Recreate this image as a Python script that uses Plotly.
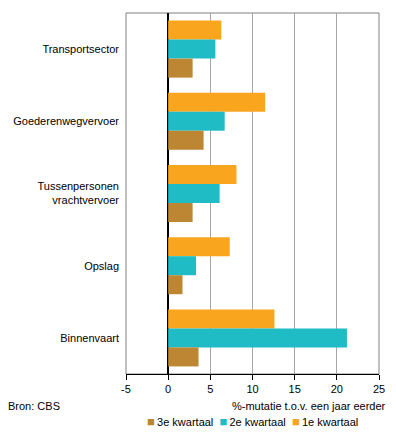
import plotly.graph_objects as go

categories = ["Transportsector", "Goederenwegvervoer", "Tussenpersonen<br>vrachtvervoer", "Opslag", "Binnenvaart"]
q1 = [6.3, 11.5, 8.1, 7.3, 12.6]
q2 = [5.6, 6.7, 6.1, 3.3, 21.2]
q3 = [2.9, 4.2, 2.9, 1.7, 3.6]
series_names = ["1e kwartaal", "2e kwartaal", "3e kwartaal"]
colors = ["#F9A61E", "#1FBCC6", "#BC8632"]
tick_vals = [-5, 0, 5, 10, 15, 20, 25]
tick_labels = ["-5", "0", "5", "10", "15", "20", "25"]

fig = go.Figure()
for name, vals, col in zip(series_names, [q1, q2, q3], colors):
    fig.add_trace(go.Bar(y=categories, x=vals, name=name, orientation="h",
                         marker=dict(color=col, line=dict(width=0)), showlegend=False))

font = dict(family="Liberation Sans, Arial, sans-serif", size=11, color="#000000")

# compact legend as text (reverse order: 3e, 2e, 1e)
legend_parts = []
for name, col in reversed(list(zip(series_names, colors))):
    legend_parts.append(f"<span style='color:{col};font-size:13px'>■</span>\u2009{name}")
legend_text = "  ".join(legend_parts)

fig.update_layout(
    width=396, height=439,
    margin=dict(l=126, r=17, t=13, b=65, autoexpand=False),
    barmode="group", bargap=0.21, bargroupgap=0,
    plot_bgcolor="white", paper_bgcolor="white",
    font=font,
    xaxis=dict(range=[-5, 25], tickvals=tick_vals, ticktext=tick_labels,
               showgrid=True, gridcolor="#A6A6A6",
               gridwidth=1, zeroline=True, zerolinecolor="#000000", zerolinewidth=1.5,
               showline=True, linecolor="#000000", linewidth=1, ticks="outside",
               ticklen=5, tickcolor="#000000", fixedrange=True),
    yaxis=dict(autorange="reversed", showgrid=False, zeroline=False, showline=False,
               ticks="", ticklabelstandoff=6, fixedrange=True),
    shapes=[dict(type="rect", xref="paper", yref="paper", x0=0, x1=1, y0=0, y1=1,
                 line=dict(color="#808080", width=1), layer="below")],
    annotations=[
        dict(text="Bron: CBS", xref="paper", yref="paper", x=-120/253, y=-0.088,
             xanchor="left", yanchor="middle", showarrow=False, font=font),
        dict(text="%-mutatie t.o.v. een jaar eerder", xref="paper", yref="paper",
             x=1.036, y=-0.088, xanchor="right", yanchor="middle", showarrow=False, font=font),
        dict(text=legend_text, xref="paper", yref="paper", x=0.5, y=-0.132,
             xanchor="center", yanchor="middle", showarrow=False, font=font),
    ],
)
fig.write_html("out.html", config={"displayModeBar": False},
               post_script="document.body.style.margin='0px';")
